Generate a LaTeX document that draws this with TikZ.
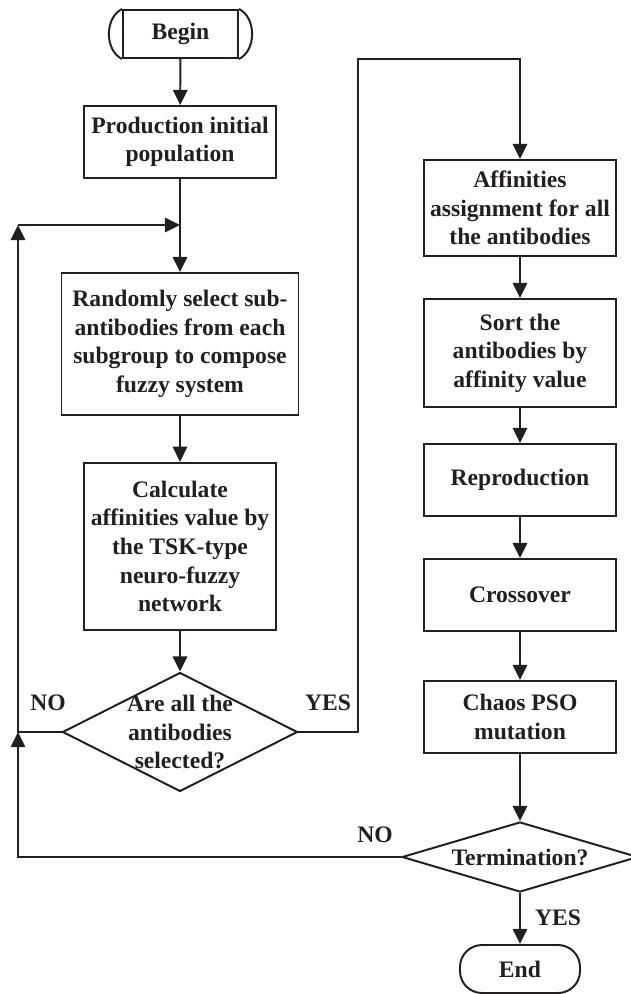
\documentclass[tikz,border=0pt]{standalone}
\usepackage{fontspec}
\setmainfont{Liberation Serif}
\usepackage{tikz}
\usetikzlibrary{arrows.meta, positioning, shapes.geometric}
\definecolor{ink}{HTML}{231F20}

\begin{document}
\begin{tikzpicture}[
    every node/.style={font=\fontsize{16.8}{20.3}\selectfont\bfseries, text=ink},
    box/.style={draw=ink, line width=1.4pt, align=center,
                minimum width=4.8cm, minimum height=1.8cm, inner sep=2pt},
    decision/.style={draw=ink, line width=1.4pt, diamond, inner sep=0pt},
    flow/.style={-{Triangle[length=0.38cm, width=0.36cm]}, line width=1.4pt, ink}
]
    \useasboundingbox (0,0) rectangle (15.775,-24.85);

    % left column
    \node[box, minimum width=2.875cm, minimum height=1.2cm] (start) at (4.5125,-0.85) {Begin};
    \draw[ink, line width=1.4pt] (start.north west) to[bend right=64] (start.south west);
    \draw[ink, line width=1.4pt] (start.north east) to[bend left=64] (start.south east);
    \node[box] (prod) at (4.5,-3.55) {Production initial\\population};
    \node[box, minimum width=5.925cm, minimum height=3.55cm] (rsel) at (4.5,-8.6)
        {Randomly select sub-\\antibodies from each\\subgroup to compose\\fuzzy system};
    \node[box, minimum height=4.175cm] (calc) at (4.5,-13.66)
        {Calculate\\affinities value by\\the TSK-type\\neuro-fuzzy\\network};
    \node[decision, minimum width=5.875cm, minimum height=2.975cm] (dec1) at (4.5,-18.3) {};
    \node[align=center] (dec1txt) at (dec1) {Are all the\\antibodies\\selected?};

    % right column
    \node[box, minimum height=2.4cm] (assign) at (13,-5.2)
        {Affinities\\assignment for all\\the antibodies};
    \node[box, minimum height=2.7cm] (sort) at (13,-8.825)
        {Sort the\\antibodies by\\affinity value};
    \node[box] (repro) at (13,-12) {Reproduction};
    \node[box] (cross) at (13,-14.875) {Crossover};
    \node[box] (chaos) at (13,-17.925) {Chaos PSO\\mutation};
    \node[decision, minimum width=5.9cm, minimum height=1.75cm] (term) at (13,-21.425) {};
    \node (termtxt) at (term) {Termination?};
    \node[box, rounded corners=0.55cm, minimum width=3cm, minimum height=1.2cm] (stop) at (13,-24.225) {End};

    % loop corners
    \coordinate (loop1) at (0.45,-5.625);
    \coordinate (loop2) at (0.45,-18.3);
    \coordinate (topc) at (8.95,-1.475);

    \draw[flow] (start) -- (prod);
    \draw[flow] (prod) -- (rsel);
    \draw[flow] (rsel) -- (calc);
    \draw[flow] (calc) -- (dec1);
    \draw[flow] (dec1.west) -| (loop1);
    \draw[flow] (loop1) -- (loop1 -| prod.south);
    \draw[flow] (term.west) -| (loop2);
    \draw[flow] (dec1.east) -| (topc) -| (assign.north);
    \draw[flow] (assign) -- (sort);
    \draw[flow] (sort) -- (repro);
    \draw[flow] (repro) -- (cross);
    \draw[flow] (cross) -- (chaos);
    \draw[flow] (chaos) -- (term);
    \draw[flow] (term) -- (stop);

    % labels
    \node (no1) at (1.2,-17.575) {NO};
    \node (yes1) at (8.2,-17.575) {YES};
    \node (no2) at (9.375,-20.875) {NO};
    \node (yes2) at (13.95,-22.95) {YES};
\end{tikzpicture}
\end{document}
